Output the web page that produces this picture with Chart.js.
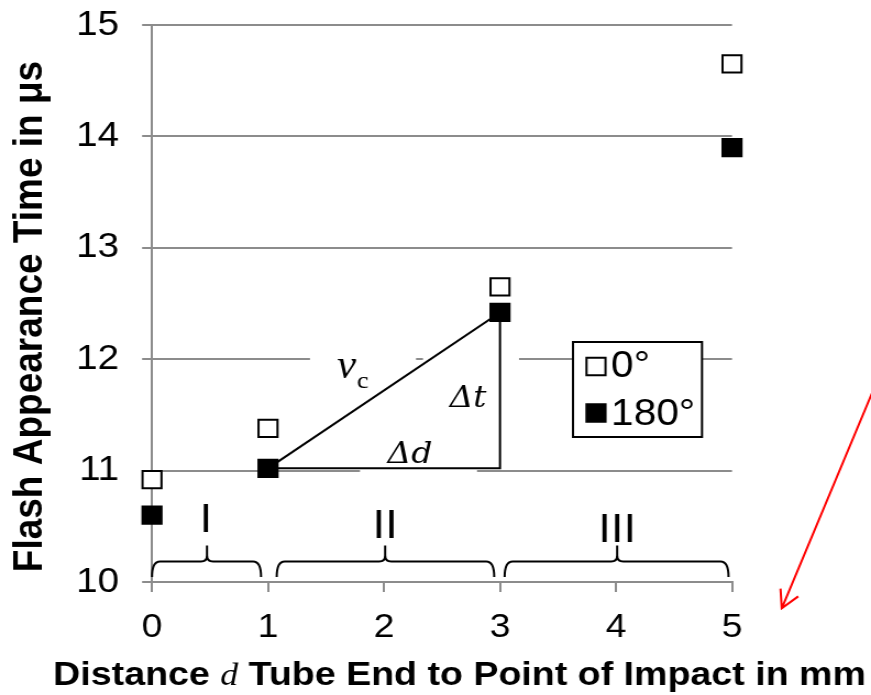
<!DOCTYPE html>
<html>
<head>
<meta charset="utf-8">
<script src="https://cdn.jsdelivr.net/npm/chart.js@4.4.1/dist/chart.umd.min.js"></script>
<style>
html,body{margin:0;padding:0;background:#fff;overflow:hidden}
#c{display:block}
</style>
</head>
<body>
<canvas id="c" width="792" height="695" style="width:871px;height:695px"></canvas>
<script>
// ---------------- data ----------------
const distances = [0, 1, 3, 5];
const time0 = [10.92, 11.38, 12.65, 14.65];
const time180 = [10.60, 11.02, 12.42, 13.90];
const seriesNames = ['0°', '180°'];
const xTickValues = [0, 1, 2, 3, 4, 5];
const yTickValues = [10, 11, 12, 13, 14, 15];
const regionNames = ['I', 'II', 'III'];
const regionStart = [0, 1.075, 3.04];
const regionEnd = [0.94, 2.95, 4.97];
const regionMid = [0.474, 2.01, 4.01];
const xTitleParts = ['Distance ', 'd', ' Tube End to Point of Impact in mm'];
const yTitle = 'Flash Appearance Time in μs';

// ---------------- styling ----------------
const S = 871 / 792;               // horizontal CSS stretch of the canvas
const GRID = '#8c8c8c';
const SANS = '"Liberation Sans", Arial, sans-serif';
const SERIF = '"Liberation Serif", "Times New Roman", serif';
const DSERIF = '"DejaVu Serif", serif';
const MR = 12.2;                    // marker radius

const annot = {
  id: 'annot',
  beforeDatasetsDraw(chart) {
    const {ctx, scales: {x, y}} = chart;
    const X = v => x.getPixelForValue(v), Y = v => y.getPixelForValue(v);
    ctx.save();
    // white label boxes (cover grid lines)
    ctx.fillStyle = '#fff';
    const boxes = [[1.362, 2.276, 12.25, 11.75], [2.336, 3.164, 12.1, 11.5], [1.793, 2.802, 11.2, 10.95]];
    boxes.forEach(b => ctx.fillRect(X(b[0]), Y(b[2]), X(b[1]) - X(b[0]), Y(b[3]) - Y(b[2])));

    // triangle from the 180° series (points at d = 1 and d = 3)
    const i1 = distances.indexOf(1), i3 = distances.indexOf(3);
    const ax = X(distances[i1]), ay = Y(time180[i1]);
    const bx = X(distances[i3]), by = Y(time180[i3]);
    ctx.strokeStyle = '#000';
    ctx.lineWidth = 2;
    ctx.beginPath();
    ctx.moveTo(ax, ay); ctx.lineTo(bx, by); ctx.lineTo(bx, ay); ctx.closePath();
    ctx.stroke();

    // labels
    ctx.fillStyle = '#000';
    ctx.textBaseline = 'alphabetic';
    ctx.textAlign = 'left';
    ctx.font = 'italic 39px ' + SERIF;
    ctx.fillText('v', X(1.595), Y(11.831));
    ctx.font = '24px ' + SERIF;
    ctx.fillText('c', X(1.767), Y(11.741));
    ctx.textAlign = 'center';
    ctx.font = 'italic 30px ' + DSERIF;
    ctx.fillText('Δt', X(2.724), Y(11.571));
    ctx.fillText('Δd', X(2.224), Y(11.068));

    // region braces
    const yb = Y(10.045), yl = Y(10.184), yt = Y(10.328);
    const rx = 8 / S, tx = 6 / S, ty = 6;
    ctx.lineWidth = 2;
    regionNames.forEach((name, i) => {
      const x0 = X(regionStart[i]), x1 = X(regionEnd[i]), xm = X(regionMid[i]);
      ctx.beginPath();
      ctx.moveTo(x0, yb);
      ctx.quadraticCurveTo(x0, yl, x0 + rx, yl);
      ctx.lineTo(xm - tx, yl);
      ctx.quadraticCurveTo(xm, yl, xm, yl - ty);
      ctx.lineTo(xm, yt);
      ctx.moveTo(xm, yl - ty);
      ctx.quadraticCurveTo(xm, yl, xm + tx, yl);
      ctx.lineTo(x1 - rx, yl);
      ctx.quadraticCurveTo(x1, yl, x1, yb);
      ctx.stroke();
    });
    ctx.font = '41px ' + SANS;
    ctx.textAlign = 'center';
    const labelY = [10.449, 10.395, 10.359];
    regionNames.forEach((name, i) => ctx.fillText(name, X(regionMid[i]) + (i === 0 ? -1 : 0), Y(labelY[i])));
    ctx.restore();
  },
  afterDraw(chart) {
    const {ctx, scales: {x, y}} = chart;
    const X = v => x.getPixelForValue(v), Y = v => y.getPixelForValue(v);
    ctx.save();
    // legend box
    const lx0 = 573 / S, lx1 = 702 / S, ly0 = 342, ly1 = 437;
    ctx.fillStyle = '#fff';
    ctx.fillRect(lx0, ly0, lx1 - lx0, ly1 - ly0);
    ctx.strokeStyle = '#000';
    ctx.lineWidth = 2;
    ctx.strokeRect(lx0, ly0, lx1 - lx0, ly1 - ly0);
    const rowY = [366.5, 413];
    const textY = [377, 424.5];
    chart.data.datasets.forEach((ds, i) => {
      const cx = 596 / S, cy = rowY[i];
      const h = Math.SQRT1_2 * MR;
      ctx.fillStyle = ds.backgroundColor;
      ctx.strokeStyle = ds.borderColor;
      ctx.lineWidth = 2;
      ctx.beginPath();
      ctx.rect(cx - h, cy - h, 2 * h, 2 * h);
      ctx.fill(); ctx.stroke();
      ctx.fillStyle = '#000';
      ctx.font = '37px ' + SANS;
      ctx.textAlign = 'left';
      ctx.textBaseline = 'alphabetic';
      ctx.fillText(ds.label, 611 / S, textY[i]);
    });

    // red arrow
    ctx.strokeStyle = '#ff0000';
    ctx.lineWidth = 2;
    ctx.beginPath();
    ctx.moveTo(X(6.276), Y(11.867));
    ctx.lineTo(X(5.429), Y(9.764));
    ctx.moveTo(X(5.418), Y(9.941));
    ctx.lineTo(X(5.429), Y(9.764));
    ctx.lineTo(X(5.571), Y(9.871));
    ctx.stroke();

    // y title
    ctx.fillStyle = '#000';
    ctx.save();
    ctx.translate(42 / S, 316.5);
    ctx.rotate(-Math.PI / 2);
    ctx.font = 'bold 37px ' + SANS;
    ctx.textAlign = 'center';
    ctx.textBaseline = 'alphabetic';
    ctx.fillText(yTitle, 0, 0);
    ctx.restore();

    // x title (mixed fonts)
    const fonts = ['bold 32.5px ' + SANS, 'italic 31px ' + SERIF, 'bold 32.5px ' + SANS];
    const widths = xTitleParts.map((t, i) => { ctx.font = fonts[i]; return ctx.measureText(t).width; });
    const total = widths.reduce((a, b) => a + b, 0);
    const target = 739;
    const sx = target / total;
    ctx.save();
    ctx.translate(459.5 / S, 685);
    ctx.scale(sx, 1);
    let cur = -total / 2;
    ctx.textAlign = 'left';
    ctx.textBaseline = 'alphabetic';
    xTitleParts.forEach((t, i) => { ctx.font = fonts[i]; ctx.fillText(t, cur, 0); cur += widths[i]; });
    ctx.restore();
    ctx.restore();
  }
};

const ctx = document.getElementById('c');
new Chart(ctx, {
  type: 'scatter',
  data: {
    datasets: [
      {
        label: seriesNames[0],
        data: distances.map((d, i) => ({x: d, y: time0[i]})),
        pointStyle: 'rect', pointRadius: MR, pointHoverRadius: MR,
        backgroundColor: '#ffffff', borderColor: '#000000', borderWidth: 2, clip: false
      },
      {
        label: seriesNames[1],
        data: distances.map((d, i) => ({x: d, y: time180[i]})),
        pointStyle: 'rect', pointRadius: MR, pointHoverRadius: MR,
        backgroundColor: '#000000', borderColor: '#000000', borderWidth: 2, clip: false
      }
    ]
  },
  options: {
    responsive: false,
    animation: false,
    devicePixelRatio: 1,
    events: [],
    layout: {padding: {left: 0, top: 25, right: 792 - 732 / S, bottom: 0}},
    plugins: {legend: {display: false}, tooltip: {enabled: false}},
    scales: {
      x: {
        type: 'linear', min: 0, max: 5,
        afterFit(s) { s.height = 695 - 582; s.paddingLeft = 0; s.paddingRight = 0; },
        afterBuildTicks(s) { s.ticks = xTickValues.map(v => ({value: v})); },
        grid: {drawOnChartArea: false, drawTicks: true, tickLength: 10, color: GRID, lineWidth: 2},
        border: {display: true, color: GRID, width: 2},
        ticks: {color: '#000', font: {family: SANS, size: 34}, padding: 15, maxRotation: 0, autoSkip: false}
      },
      y: {
        type: 'linear', min: 10, max: 15,
        afterFit(s) { s.width = 152 / S; s.paddingTop = 0; s.paddingBottom = 0; },
        afterBuildTicks(s) { s.ticks = yTickValues.map(v => ({value: v})); },
        grid: {color: GRID, lineWidth: 2, tickLength: 9, drawTicks: true},
        border: {display: true, color: GRID, width: 2},
        ticks: {color: '#000', font: {family: SANS, size: 35}, padding: 21, autoSkip: false}
      }
    }
  },
  plugins: [annot]
});
</script>
</body>
</html>
